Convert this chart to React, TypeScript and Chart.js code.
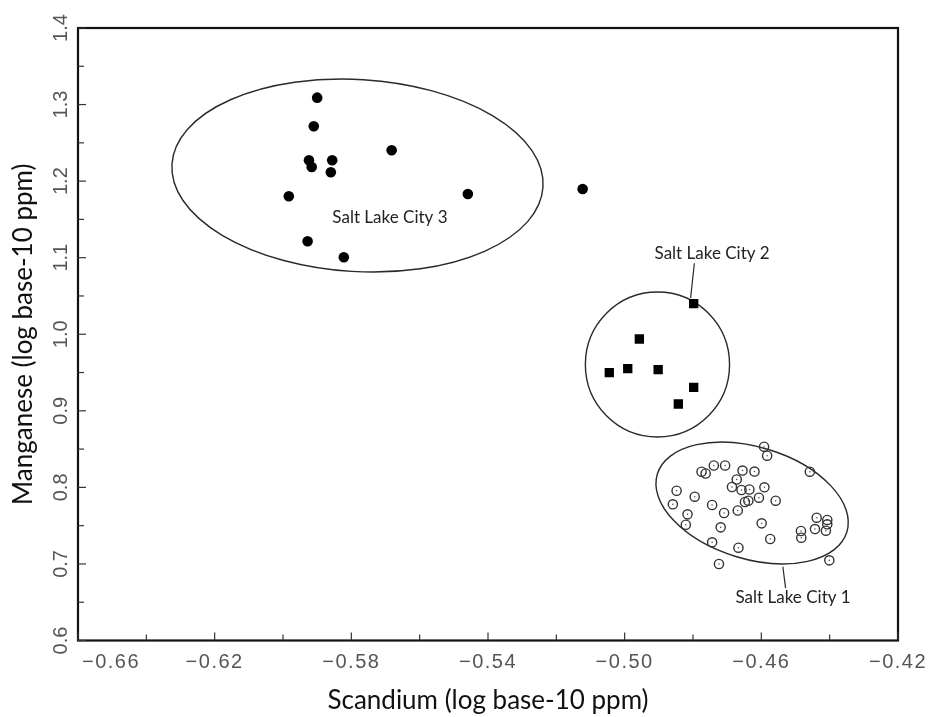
import React, { useEffect, useRef } from "react";
import { Chart, registerables } from "chart.js";

Chart.register(...registerables);

// ---- data (log10 ppm) ----
const slc3X = [-0.5900, -0.5910, -0.5682, -0.5924, -0.5916, -0.5856, -0.5860, -0.5983, -0.5459, -0.5123, -0.5928, -0.5822];
const slc3Y = [1.309, 1.2716, 1.2403, 1.2272, 1.2184, 1.2272, 1.2115, 1.1802, 1.1832, 1.1897, 1.1214, 1.1005];

const slc2X = [-0.4798, -0.4957, -0.5045, -0.4991, -0.4902, -0.4798, -0.4843];
const slc2Y = [1.0399, 0.9938, 0.9498, 0.955, 0.9537, 0.9307, 0.9089];

const slc1X = [
  -0.4592, -0.4583, -0.4458, -0.4739, -0.4706, -0.4775, -0.4763, -0.4655, -0.462, -0.4672,
  -0.4686, -0.4658, -0.4635, -0.4591, -0.4848, -0.4795, -0.4859, -0.4744, -0.4816, -0.4821,
  -0.4709, -0.4669, -0.4719, -0.4744, -0.4667, -0.4599, -0.4574, -0.4724, -0.4484, -0.4483,
  -0.4443, -0.4438, -0.4407, -0.4407, -0.4411, -0.4401, -0.4607, -0.4558, -0.4648, -0.4638,
];
const slc1Y = [
  0.8531, 0.8414, 0.8205, 0.8286, 0.8286, 0.8205, 0.8181, 0.822, 0.8207, 0.8103,
  0.8005, 0.7966, 0.7972, 0.8001, 0.7956, 0.7878, 0.7779, 0.777, 0.7648, 0.7512,
  0.7665, 0.7698, 0.7478, 0.7282, 0.7212, 0.753, 0.7326, 0.6999, 0.743, 0.7342,
  0.7456, 0.7604, 0.7574, 0.7518, 0.7434, 0.7047, 0.7865, 0.7826, 0.7809, 0.7826,
];

// axis ticks
const xTicks = [-0.66, -0.62, -0.58, -0.54, -0.5, -0.46, -0.42];
const xTickLabels = ["\u22120.66", "\u22120.62", "\u22120.58", "\u22120.54", "\u22120.50", "\u22120.46", "\u22120.42"];
const xMinorTicks = [-0.64, -0.6, -0.56, -0.52, -0.48, -0.44];
const yTicks = [0.6, 0.7, 0.8, 0.9, 1.0, 1.1, 1.2, 1.3, 1.4];
const yTickLabels = ["0.6", "0.7", "0.8", "0.9", "1.0", "1.1", "1.2", "1.3", "1.4"];
const yMinorTicks = [0.65, 0.75, 0.85, 0.95, 1.05, 1.15, 1.25, 1.35];

// group ellipses: centre (data), semi-axes (data units), rotation (deg)
const ellipseCx = [-0.5782, -0.4904, -0.4627];
const ellipseCy = [1.2073, 0.9605, 0.7796];
const ellipseRx = [0.0544, 0.0211, 0.029];
const ellipseRy = [0.1254, 0.0947, 0.0731];
const ellipseRot = [3.5, 0, 17];

// group labels
const groupNames = ["Salt Lake City 3", "Salt Lake City 2", "Salt Lake City 1"];
const labelX = [-0.5687, -0.4744, -0.4507];
const labelY = [1.1531, 1.1061, 0.6555];
// leader lines (index 0 has none)
const leaderX1 = [NaN, -0.4796, -0.4537];
const leaderY1 = [NaN, 1.0927, 0.6964];
const leaderX2 = [NaN, -0.4807, -0.4529];
const leaderY2 = [NaN, 1.0473, 0.6685];

const xTitle = "Scandium (log base-10 ppm)";
const yTitle = "Manganese (log base-10 ppm)";

const pts = (xs: number[], ys: number[]) => xs.map((x, i) => ({ x, y: ys[i] }));

const decorPlugin = {
  id: "decor",
  beforeDatasetsDraw(chart: any) {
    const { ctx, chartArea: a, scales } = chart;
    const xs = scales.x;
    const ys = scales.y;
    ctx.save();
    // ellipses
    ctx.strokeStyle = "#2a2a2a";
    ctx.lineWidth = 1.4;
    for (let i = 0; i < ellipseCx.length; i++) {
      const cx = xs.getPixelForValue(ellipseCx[i]);
      const cy = ys.getPixelForValue(ellipseCy[i]);
      const rx = Math.abs(xs.getPixelForValue(ellipseCx[i] + ellipseRx[i]) - cx);
      const ry = Math.abs(ys.getPixelForValue(ellipseCy[i] + ellipseRy[i]) - cy);
      ctx.beginPath();
      ctx.ellipse(cx, cy, rx, ry, (ellipseRot[i] * Math.PI) / 180, 0, Math.PI * 2);
      ctx.stroke();
    }
    // leader lines
    ctx.lineWidth = 1.2;
    for (let i = 0; i < leaderX1.length; i++) {
      if (isNaN(leaderX1[i])) continue;
      ctx.beginPath();
      ctx.moveTo(xs.getPixelForValue(leaderX1[i]), ys.getPixelForValue(leaderY1[i]));
      ctx.lineTo(xs.getPixelForValue(leaderX2[i]), ys.getPixelForValue(leaderY2[i]));
      ctx.stroke();
    }
    // frame
    ctx.strokeStyle = "#111";
    ctx.lineWidth = 2.2;
    ctx.strokeRect(a.left, a.top, a.right - a.left, a.bottom - a.top);
    // ticks
    ctx.lineWidth = 1.2;
    ctx.strokeStyle = "#333";
    const tick = (x1: number, y1: number, x2: number, y2: number) => {
      ctx.beginPath();
      ctx.moveTo(x1, y1);
      ctx.lineTo(x2, y2);
      ctx.stroke();
    };
    xTicks.forEach((v) => {
      const p = xs.getPixelForValue(v);
      tick(p, a.bottom, p, a.bottom - 8);
    });
    xMinorTicks.forEach((v) => {
      const p = xs.getPixelForValue(v);
      tick(p, a.bottom, p, a.bottom - 6);
    });
    yTicks.forEach((v) => {
      const p = ys.getPixelForValue(v);
      tick(a.left, p, a.left + 8, p);
    });
    yMinorTicks.forEach((v) => {
      const p = ys.getPixelForValue(v);
      tick(a.left, p, a.left + 6, p);
    });
    ctx.restore();
  },
  afterDraw(chart: any) {
    const { ctx, chartArea: a, scales } = chart;
    const xs = scales.x;
    const ys = scales.y;
    ctx.save();
    // tick labels
    ctx.fillStyle = "#555";
    ctx.font = "20px 'Liberation Sans', Arial, sans-serif";
    ctx.textBaseline = "middle";
    ctx.textAlign = "center";
    (ctx as any).letterSpacing = "1.5px";
    xTicks.forEach((v, i) => {
      let p = xs.getPixelForValue(v);
      if (i === 0) p += 33;
      ctx.fillText(xTickLabels[i], p, a.bottom + 22);
    });
    (ctx as any).letterSpacing = "0px";
    yTicks.forEach((v, i) => {
      const p = ys.getPixelForValue(v);
      ctx.save();
      ctx.translate(a.left - 17, p);
      ctx.rotate(-Math.PI / 2);
      ctx.fillText(yTickLabels[i], 0, 0);
      ctx.restore();
    });
    // group labels
    ctx.fillStyle = "#222";
    ctx.font = "17px Lato, 'Open Sans', sans-serif";
    for (let i = 0; i < groupNames.length; i++) {
      ctx.fillText(groupNames[i], xs.getPixelForValue(labelX[i]), ys.getPixelForValue(labelY[i]));
    }
    // axis titles
    ctx.fillStyle = "#111";
    ctx.font = "26px Lato, 'Open Sans', sans-serif";
    ctx.fillText(xTitle, (a.left + a.right) / 2, a.bottom + 60);
    ctx.save();
    ctx.translate(24, (a.top + a.bottom) / 2);
    ctx.rotate(-Math.PI / 2);
    ctx.fillText(yTitle, 0, 0);
    ctx.restore();
    ctx.restore();
  },
};

export default function App() {
  const ref = useRef<HTMLCanvasElement | null>(null);
  useEffect(() => {
    document.body.style.margin = "0";
    if (!ref.current) return;
    const chart = new Chart(ref.current, {
      type: "scatter",
      data: {
        datasets: [
          {
            label: "Salt Lake City 3",
            data: pts(slc3X, slc3Y),
            pointStyle: "circle",
            pointRadius: 5.3,
            backgroundColor: "#000",
            borderColor: "#000",
            borderWidth: 0,
          },
          {
            label: "Salt Lake City 2",
            data: pts(slc2X, slc2Y),
            pointStyle: "rect",
            pointRadius: 6.6,
            backgroundColor: "#000",
            borderColor: "#000",
            borderWidth: 0,
          },
          {
            label: "Salt Lake City 1",
            data: pts(slc1X, slc1Y),
            pointStyle: "circle",
            pointRadius: 4.6,
            backgroundColor: "rgba(255,255,255,0)",
            borderColor: "#333",
            borderWidth: 1.4,
          },
          {
            label: "Salt Lake City 1 centre",
            data: pts(slc1X, slc1Y),
            pointStyle: "circle",
            pointRadius: 0.8,
            backgroundColor: "#555",
            borderWidth: 0,
          },
        ],
      },
      options: {
        animation: false,
        responsive: false,
        maintainAspectRatio: false,
        events: [],
        layout: { padding: { left: 78, top: 28, right: 37, bottom: 76.5 } },
        plugins: { legend: { display: false }, tooltip: { enabled: false } },
        scales: {
          x: { type: "linear", min: -0.66, max: -0.42, display: false },
          y: { type: "linear", min: 0.6, max: 1.4, display: false },
        },
      },
      plugins: [decorPlugin],
    });
    return () => chart.destroy();
  }, []);
  return (
    <div style={{ width: 935, height: 717, background: "#fff" }}>
      <canvas ref={ref} width={935} height={717} style={{ display: "block" }} />
    </div>
  );
}
